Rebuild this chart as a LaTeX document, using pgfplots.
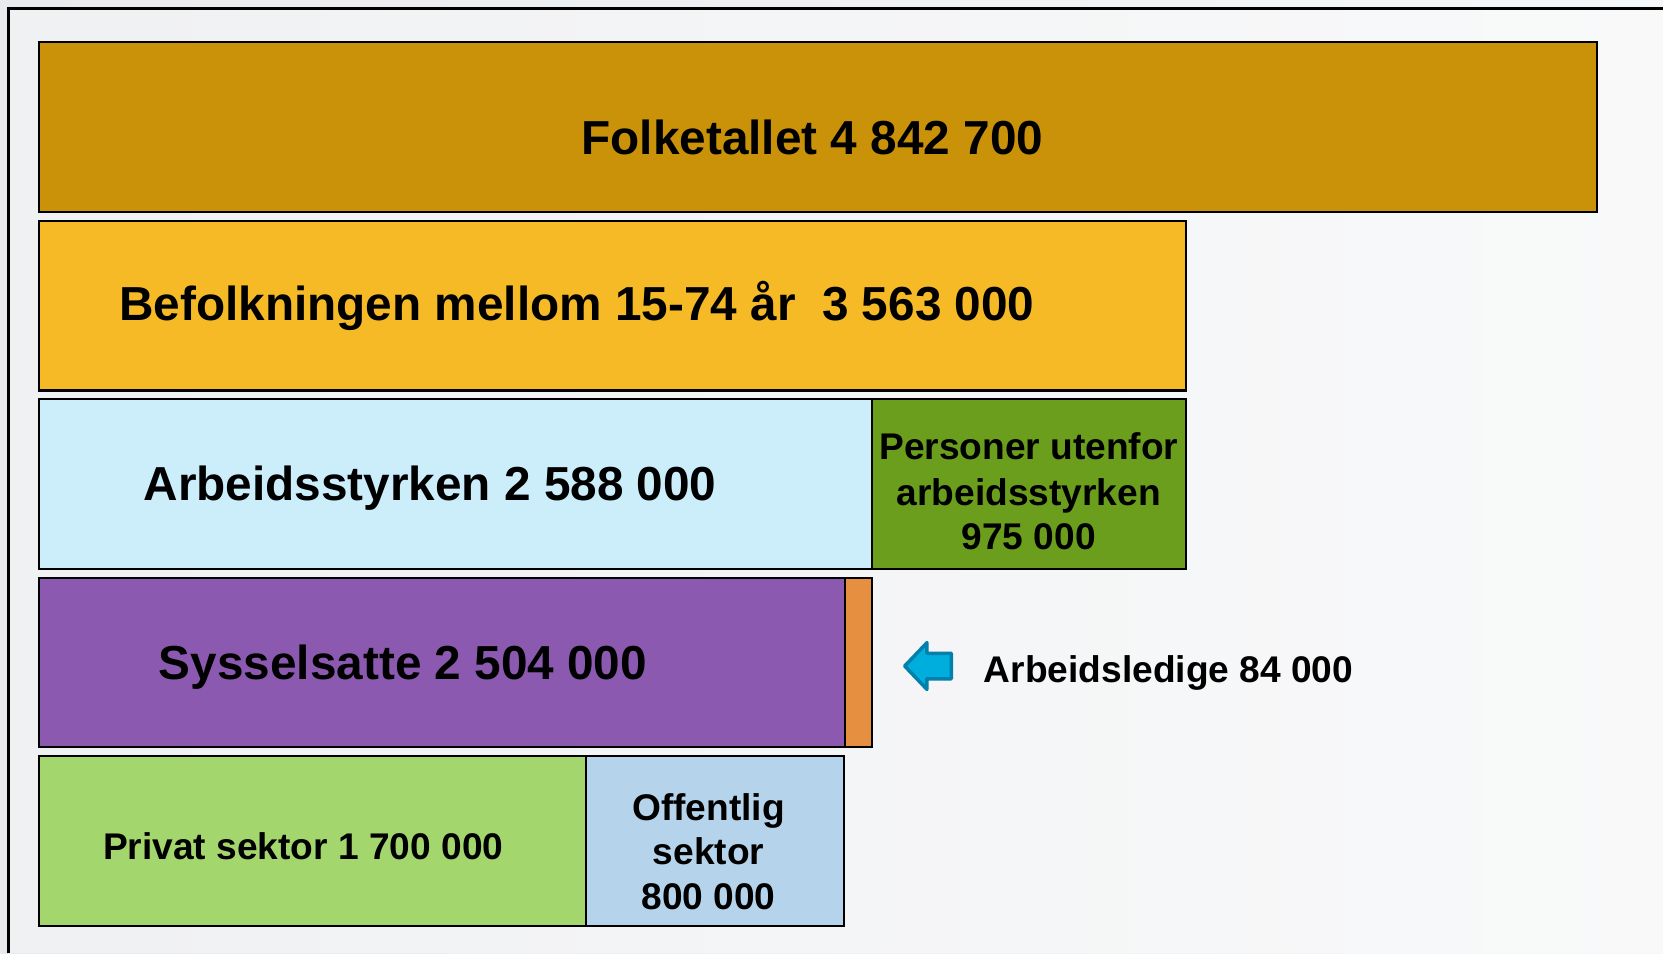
\documentclass[border=0pt]{standalone}
\usepackage{pgfplots}
\pgfplotsset{compat=1.18}
\usepackage{fontspec}
\setmainfont{Liberation Sans}
\definecolor{cFolk}{RGB}{202,146,8}
\definecolor{cBef}{RGB}{245,186,37}
\definecolor{cArb}{RGB}{204,238,251}
\definecolor{cUten}{RGB}{107,158,29}
\definecolor{cSys}{RGB}{139,90,176}
\definecolor{cLed}{RGB}{230,143,64}
\definecolor{cPriv}{RGB}{163,215,110}
\definecolor{cOff}{RGB}{181,211,234}
\definecolor{cArrow}{RGB}{0,174,222}
\definecolor{cArrowD}{RGB}{0,128,170}
\definecolor{bgL}{RGB}{232,234,237}
\definecolor{bgR}{RGB}{246,247,248}
\newcommand{\bigfnt}{\fontsize{13.5}{16}\selectfont\bfseries}
\newcommand{\midfnt}{\fontsize{10.5}{12.75}\selectfont\bfseries}
\begin{document}
\begin{tikzpicture}
\useasboundingbox (0,0) rectangle (470.4pt,269.7pt);
\shade[left color=bgL, right color=bgR] (0,0) rectangle (470.4pt,269.7pt);
\begin{scope}[x=0.3pt,y=-0.3pt,shift={(0pt,269.7pt)}]
\fill[white,opacity=0.35] (8,8) rectangle (1568,899);
\draw[line width=0.7pt] (8,899) -- (8,8) -- (1568,8);
\end{scope}
\begin{axis}[at={(11.1pt,6.57pt)}, anchor=south west, scale only axis,
  width=440.7pt, height=252.4pt, hide axis, clip=false,
  xmin=0, xmax=4842700, ymin=-0.5, ymax=4.5,
  mybar/.style={xbar, bar width=0.951, bar shift=0pt, draw=black, line width=0.6pt}]
% Folketallet
\addplot[mybar, fill=cFolk] coordinates {(4842700,4)};
% Befolkningen 15-74
\addplot[mybar, fill=cBef] coordinates {(3563000,3)};
% Arbeidsstyrken + utenfor (975 000 on top of 2 588 000)
\addplot[mybar, fill=cUten] coordinates {(3563000,2)};
\addplot[mybar, fill=cArb] coordinates {(2588000,2)};
% Sysselsatte + arbeidsledige (84 000)
\addplot[mybar, fill=cLed] coordinates {(2588000,1)};
\addplot[mybar, fill=cSys] coordinates {(2504000,1)};
% Privat + offentlig (800 000)
\addplot[mybar, fill=cOff] coordinates {(2500000,0)};
\addplot[mybar, fill=cPriv] coordinates {(1700000,0)};
\end{axis}
\begin{scope}[x=0.3pt,y=-0.3pt,shift={(0pt,269.7pt)}]
\node[anchor=base, inner sep=0pt, font=\bigfnt] at (766,146) {Folketallet 4 842 700};
\node[anchor=base, inner sep=0pt, font=\bigfnt] at (544,302) {Befolkningen mellom 15-74 år\ \ 3 563 000};
\node[anchor=base, inner sep=0pt, font=\bigfnt] at (405.5,472) {Arbeidsstyrken 2 588 000};
\node[anchor=base, inner sep=0pt, font=\bigfnt] at (380,641) {Sysselsatte 2 504 000};
\node[anchor=base, inner sep=0pt, font=\midfnt] at (970,433.5) {Personer utenfor};
\node[anchor=base, inner sep=0pt, font=\midfnt] at (970,476.5) {arbeidsstyrken};
\node[anchor=base, inner sep=0pt, font=\midfnt] at (970,518.5) {975 000};
\node[anchor=base west, inner sep=0pt, font=\midfnt] at (927,643.5) {Arbeidsledige 84 000};
\node[anchor=base, inner sep=0pt, font=\midfnt] at (286,810.5) {Privat sektor 1 700 000};
\node[anchor=base, inner sep=0pt, font=\midfnt] at (668,773.5) {Offentlig};
\node[anchor=base, inner sep=0pt, font=\midfnt] at (668,815.5) {sektor};
\node[anchor=base, inner sep=0pt, font=\midfnt] at (668,857.5) {800 000};
\filldraw[fill=cArrow, draw=cArrowD, line width=1pt, line join=round]
  (853,628) -- (874,606) -- (874,616) -- (897,616) -- (897,640) -- (874,640) -- (874,650) -- cycle;
\end{scope}
\end{tikzpicture}
\end{document}
